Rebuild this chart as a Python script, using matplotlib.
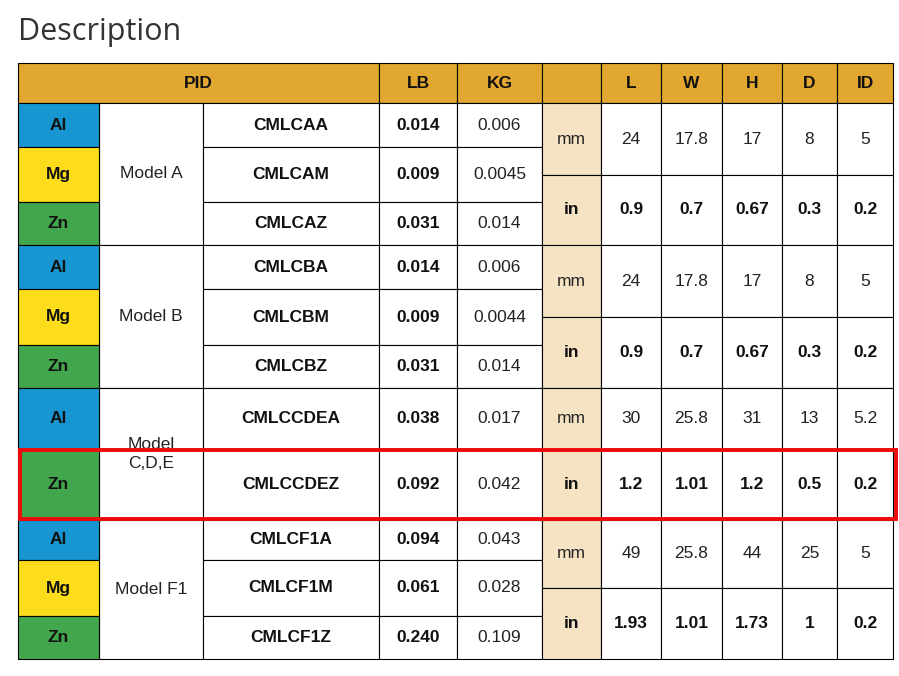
import matplotlib
matplotlib.use("Agg")
import matplotlib.pyplot as plt
from matplotlib.patches import Rectangle

# datos de la tabla
headers = ["PID", "LB", "KG", "", "L", "W", "H", "D", "ID"]
models = ["Model A", "Model B", "Model\nC,D,E", "Model F1"]
materials = [["Al", "Mg", "Zn"], ["Al", "Mg", "Zn"], ["Al", "Zn"], ["Al", "Mg", "Zn"]]
pids = [["CMLCAA", "CMLCAM", "CMLCAZ"], ["CMLCBA", "CMLCBM", "CMLCBZ"],
        ["CMLCCDEA", "CMLCCDEZ"], ["CMLCF1A", "CMLCF1M", "CMLCF1Z"]]
lb = [["0.014", "0.009", "0.031"], ["0.014", "0.009", "0.031"],
      ["0.038", "0.092"], ["0.094", "0.061", "0.240"]]
kg = [["0.006", "0.0045", "0.014"], ["0.006", "0.0044", "0.014"],
      ["0.017", "0.042"], ["0.043", "0.028", "0.109"]]
dims_mm = [["24", "17.8", "17", "8", "5"], ["24", "17.8", "17", "8", "5"],
           ["30", "25.8", "31", "13", "5.2"], ["49", "25.8", "44", "25", "5"]]
dims_in = [["0.9", "0.7", "0.67", "0.3", "0.2"], ["0.9", "0.7", "0.67", "0.3", "0.2"],
           ["1.2", "1.01", "1.2", "0.5", "0.2"], ["1.93", "1.01", "1.73", "1", "0.2"]]

# geometria (pixeles)
col_x = [18, 99, 203, 379, 457, 542, 601, 661, 722, 782, 837, 893]
header_y = (63, 103)
group_rows = [[103, 147, 202, 245], [245, 289, 345, 388], [388, 449, 520], [520, 560, 616, 659]]
unit_split = [175, 317, 449, 588]
highlight = (2, 1)  # grupo, fila

GOLD = "#E1A730"
BEIGE = "#F5E3C4"
MAT_COLORS = {"Al": "#1796D1", "Mg": "#FDDC1B", "Zn": "#42A64D"}
FONT = ["Liberation Sans", "DejaVu Sans"]
FS = 12.5

fig = plt.figure(figsize=(8.99, 6.76), dpi=100)
ax = fig.add_axes([0, 0, 1, 1])
ax.set_xlim(0, 899)
ax.set_ylim(676, 0)
ax.axis("off")


def cell(x0, x1, y0, y1, fc="white", text="", bold=False, color="#111111", **kw):
    ax.add_patch(Rectangle((x0, y0), x1 - x0, y1 - y0, facecolor=fc,
                           edgecolor="black", linewidth=0.8))
    if text:
        ax.text((x0 + x1) / 2, (y0 + y1) / 2, text, ha="center", va="center",
                fontsize=FS, family=FONT, fontweight="bold" if bold else "normal",
                color=color, **kw)


ax.text(18, 32, "Description", fontsize=22, family=["Open Sans", "DejaVu Sans"],
        color="#333333", ha="left", va="center")

# cabecera
y0, y1 = header_y
cell(col_x[0], col_x[3], y0, y1, GOLD, headers[0], True)
for i, h in enumerate(headers[1:]):
    cell(col_x[3 + i], col_x[4 + i], y0, y1, GOLD, h, True)

for g, rows in enumerate(group_rows):
    top, bottom = rows[0], rows[-1]
    cell(col_x[1], col_x[2], top, bottom, "white", models[g], False,
         color="#222222", linespacing=1.3)
    for r in range(len(rows) - 1):
        ra, rb = rows[r], rows[r + 1]
        mat = materials[g][r]
        cell(col_x[0], col_x[1], ra, rb, MAT_COLORS[mat], mat, True)
        cell(col_x[2], col_x[3], ra, rb, "white", pids[g][r], True)
        cell(col_x[3], col_x[4], ra, rb, "white", lb[g][r], True)
        cell(col_x[4], col_x[5], ra, rb, "white", kg[g][r], False, color="#222222")
    split = unit_split[g]
    cell(col_x[5], col_x[6], top, split, BEIGE, "mm", False, color="#222222")
    cell(col_x[5], col_x[6], split, bottom, BEIGE, "in", True)
    for k in range(5):
        cell(col_x[6 + k], col_x[7 + k], top, split, "white", dims_mm[g][k], False, color="#222222")
        cell(col_x[6 + k], col_x[7 + k], split, bottom, "white", dims_in[g][k], True)

# recuadro rojo
hg, hr = highlight
ry0, ry1 = group_rows[hg][hr], group_rows[hg][hr + 1]
ax.add_patch(Rectangle((20, ry0 + 1), 876, ry1 - ry0 - 2, facecolor="none",
                       edgecolor="#EE0A0A", linewidth=2.8, zorder=5))

fig.savefig("out.png", dpi=100)
